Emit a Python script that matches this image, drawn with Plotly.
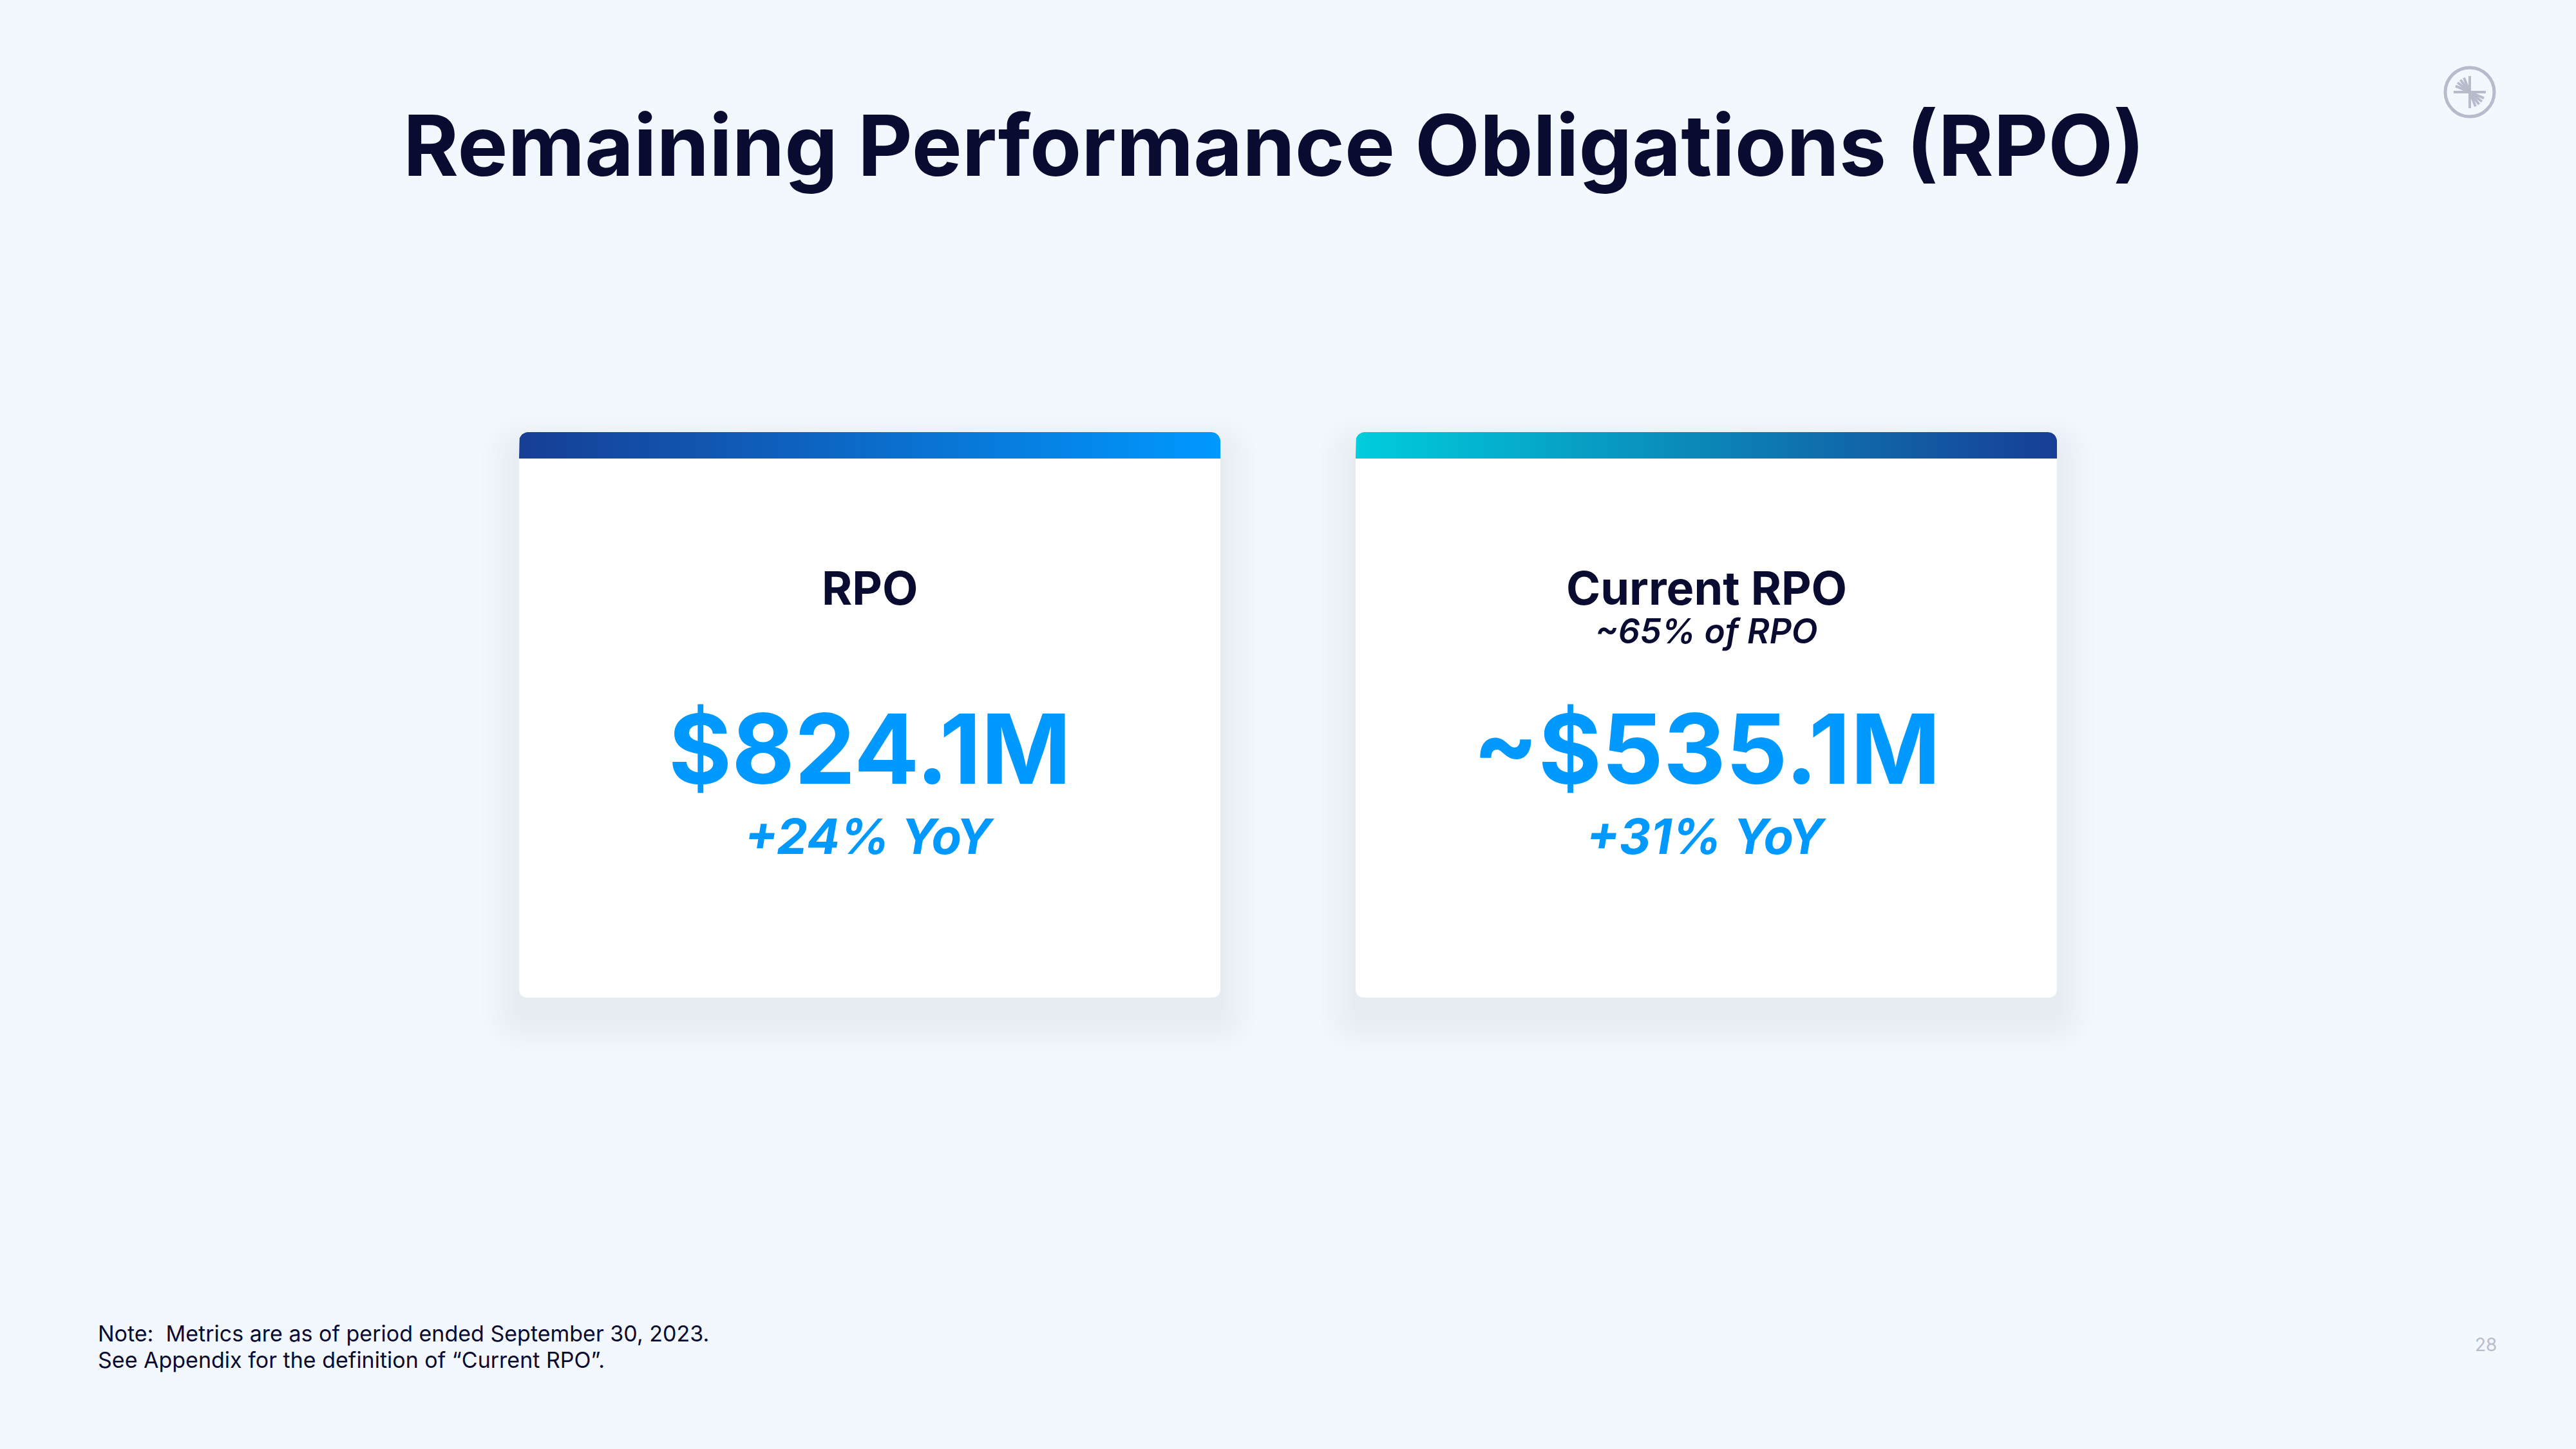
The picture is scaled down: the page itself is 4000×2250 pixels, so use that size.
import math
import plotly.graph_objects as go

# ---------------- data ----------------
slide_title = "Remaining Performance Obligations (RPO)"
card_titles = ["RPO", "Current RPO"]
card_subtitles = ["", "~65% of RPO"]
card_values = ["$824.1M", "~$535.1M"]
card_growth = ["+24% YoY", "+31% YoY"]
note_lines = ["Note:  Metrics are as of period ended September 30, 2023.",
              "See Appendix for the definition of \u201cCurrent RPO\u201d."]
page_number = "28"

# ---------------- style ----------------
W, H = 4000, 2250
BG = "#F3F7FE"
NAVY = "#0A0B30"
BLUE = "#0099FF"
FONT = "Inter"
card_x0 = [806, 2105]
card_w = 1089
card_y0, card_y1 = 671, 1549
bar_h = 41
radius = 14
gradients = [["#173E95", "#0099FF"], ["#00CDDC", "#173E95"]]


def rounded_path(x0, y0, x1, y1, r):
    return (f"M{x0+r},{y0} L{x1-r},{y0} Q{x1},{y0} {x1},{y0+r} "
            f"L{x1},{y1-r} Q{x1},{y1} {x1-r},{y1} L{x0+r},{y1} "
            f"Q{x0},{y1} {x0},{y1-r} L{x0},{y0+r} Q{x0},{y0} {x0+r},{y0} Z")


def top_bar_pts(x0, y0, x1, y1, r, n=10):
    xs, ys = [x0], [y1]
    for i in range(n + 1):
        a = math.pi - (math.pi / 2) * i / n
        xs.append(x0 + r + r * math.cos(a))
        ys.append(y0 + r - r * math.sin(a))
    for i in range(n + 1):
        a = math.pi / 2 - (math.pi / 2) * i / n
        xs.append(x1 - r + r * math.cos(a))
        ys.append(y0 + r - r * math.sin(a))
    xs += [x1, x0]
    ys += [y1, y1]
    return xs, ys


fig = go.Figure()
shapes = []
annotations = []

for i, x0 in enumerate(card_x0):
    x1 = x0 + card_w
    # soft shadow
    for k in range(12):
        e = 3 + k * 5
        shapes.append(dict(type="path", layer="below",
                           path=rounded_path(x0 - e, card_y0 - e + 30, x1 + e, card_y1 + e + 30, radius + e),
                           fillcolor="rgba(70,90,150,0.0065)", line=dict(width=0)))
    # card body
    shapes.append(dict(type="path", layer="below",
                       path=rounded_path(x0, card_y0, x1, card_y1, radius),
                       fillcolor="white", line=dict(width=0)))
    # gradient top bar
    bx, by = top_bar_pts(x0, card_y0, x1, card_y0 + bar_h, radius)
    fig.add_trace(go.Scatter(x=bx, y=by, mode="lines", fill="toself",
                             line=dict(width=0), hoverinfo="skip",
                             fillgradient=dict(type="horizontal",
                                               colorscale=[[0, gradients[i][0]], [1, gradients[i][1]]]),
                             showlegend=False))
    cx = x0 + card_w / 2
    annotations.append(dict(x=cx, y=912, text=f"<b>{card_titles[i]}</b>",
                            font=dict(family=FONT, size=72, color=NAVY)))
    if card_subtitles[i]:
        annotations.append(dict(x=cx, y=980, text=f"<i>{card_subtitles[i]}</i>",
                                font=dict(family=FONT, size=53, color=NAVY, weight=600)))
    annotations.append(dict(x=cx, y=1162, text=f"<b>{card_values[i]}</b>",
                            font=dict(family=FONT, size=150, color=BLUE, weight=700)))
    annotations.append(dict(x=cx, y=1298, text=f"<b><i>{card_growth[i]}</i></b>",
                            font=dict(family=FONT, size=76, color=BLUE)))

# title
annotations.append(dict(x=1978, y=225, text=f"<b>{slide_title}</b>",
                        font=dict(family=FONT, size=131, color=NAVY)))
# notes
annotations.append(dict(x=150, y=2070, xanchor="left", text=note_lines[0],
                        font=dict(family=FONT, size=34, color=NAVY)))
annotations.append(dict(x=150, y=2111, xanchor="left", text=note_lines[1],
                        font=dict(family=FONT, size=34, color=NAVY)))
annotations.append(dict(x=3860, y=2088, text=page_number,
                        font=dict(family=FONT, size=28, color="#B9BDCB")))

# logo
lcx, lcy, lr = 3835, 143, 38
LOGO = "#B7BBCC"
shapes.append(dict(type="circle", x0=lcx - lr, x1=lcx + lr, y0=lcy - lr, y1=lcy + lr,
                   line=dict(color=LOGO, width=5)))
shapes.append(dict(type="line", x0=lcx, x1=lcx, y0=lcy - 25, y1=lcy + 25, line=dict(color=LOGO, width=4)))
shapes.append(dict(type="line", x0=lcx - 25, x1=lcx + 25, y0=lcy, y1=lcy, line=dict(color=LOGO, width=4)))
for ang in [112, 127, 142, 157]:
    for sgn in (1, -1):
        a = math.radians(ang) if sgn == 1 else math.radians(ang + 180)
        shapes.append(dict(type="line", x0=lcx, y0=lcy,
                           x1=lcx + 24 * math.cos(a), y1=lcy - 24 * math.sin(a),
                           line=dict(color=LOGO, width=4)))

for a in annotations:
    a.update(xref="x", yref="y", showarrow=False)
    a.setdefault("xanchor", "center")
    a.setdefault("yanchor", "middle")

fig.update_layout(width=W, height=H, autosize=False,
                  margin=dict(l=0, r=0, t=0, b=0),
                  paper_bgcolor=BG, plot_bgcolor=BG,
                  xaxis=dict(range=[0, W], visible=False, fixedrange=True),
                  yaxis=dict(range=[H, 0], visible=False, fixedrange=True),
                  shapes=shapes, annotations=annotations, showlegend=False)

fig.write_html("out.html", config={"displayModeBar": False},
               post_script="document.body.style.margin='0';")
